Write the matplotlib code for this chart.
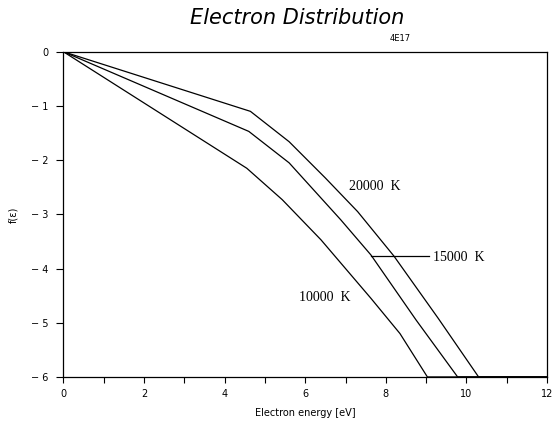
import matplotlib
matplotlib.use("Agg")
import matplotlib.pyplot as plt

# Data
E_20000 = [0, 4.64, 5.6, 6.5, 7.3, 8.2, 9.3, 10.3, 12]
f_20000 = [0, -1.10, -1.66, -2.33, -2.95, -3.77, -4.92, -6.0, -6.0]

E_15000 = [0, 4.6, 5.6, 6.88, 7.63, 8.75, 9.78, 12]
f_15000 = [0, -1.47, -2.05, -3.10, -3.75, -4.95, -6.0, -6.0]

E_10000 = [0, 4.55, 5.43, 6.39, 7.63, 8.35, 9.03, 12]
f_10000 = [0, -2.15, -2.73, -3.47, -4.55, -5.2, -6.0, -6.0]

curve_labels = ["20000  K", "15000  K", "10000  K"]
x_major = [0, 2, 4, 6, 8, 10, 12]
x_minor = [1, 3, 5, 7, 9, 11]
y_ticks = [0, -1, -2, -3, -4, -5, -6]

fig = plt.figure(figsize=(5.56, 4.24), dpi=100)
ax = fig.add_axes([0.114, 0.111, 0.870, 0.767])

for E, f in [(E_20000, f_20000), (E_15000, f_15000), (E_10000, f_10000)]:
    ax.plot(E, f, color="black", lw=0.9, clip_on=True)

ax.set_xlim(0, 12)
ax.set_ylim(-6, 0)
ax.set_xticks(x_major)
ax.set_xticks(x_minor, minor=True)
ax.set_yticks(y_ticks)
ax.set_xticklabels([str(v) for v in x_major], fontsize=7)
ax.set_yticklabels([("\u2212 %d" % -v) if v < 0 else str(v) for v in y_ticks], fontsize=7)
ax.tick_params(axis="x", which="both", direction="out", length=4, width=0.8, pad=5)
ax.tick_params(axis="y", direction="out", length=5, width=0.8, pad=6)
for s in ax.spines.values():
    s.set_linewidth(0.9)

# Curve labels
serif = ["Liberation Serif", "DejaVu Serif"]
ax.text(7.09, -2.48, curve_labels[0], fontsize=10, family=serif, va="center", ha="left")
ax.text(9.18, -3.80, curve_labels[1], fontsize=10, family=serif, va="center", ha="left")
ax.text(5.85, -4.54, curve_labels[2], fontsize=10, family=serif, va="center", ha="left")
ax.plot([7.63, 9.08], [-3.77, -3.77], color="black", lw=0.9)

ax.set_xlabel("Electron energy [eV]", fontsize=7, labelpad=6)
ax.set_ylabel("f(ɛ)", fontsize=7, labelpad=9)

fig.text(0.535, 0.957, "Electron Distribution", fontsize=15, style="italic",
         ha="center", va="center")
fig.text(0.70, 0.91, "4E17", fontsize=6, ha="left", va="center")

fig.savefig("out.png", dpi=100)
